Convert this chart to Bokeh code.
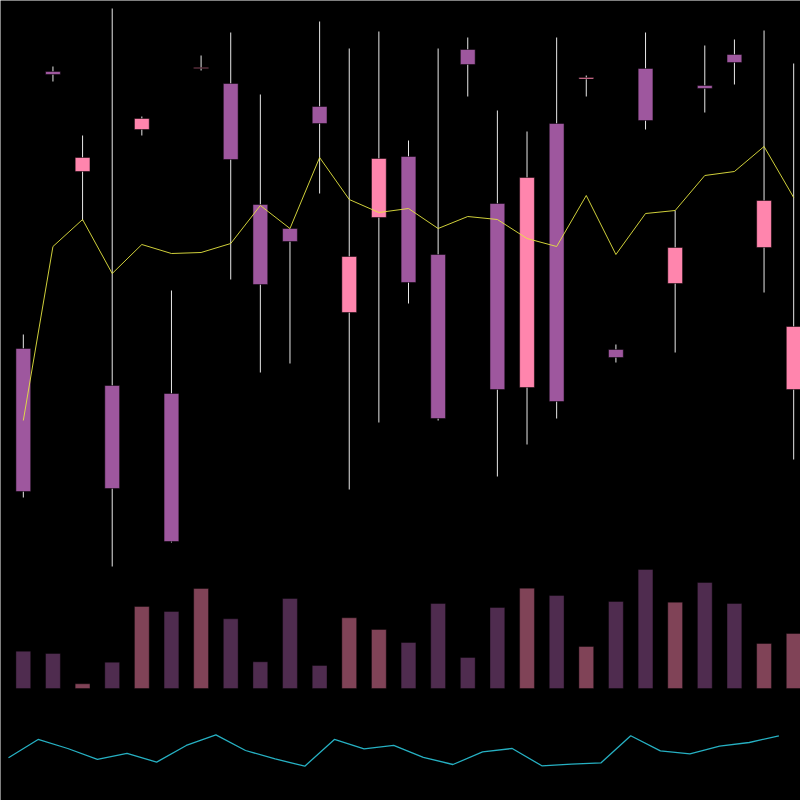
import numpy as np
from bokeh.plotting import figure
from bokeh.models import Range1d
from bokeh.embed import file_html
from bokeh.resources import INLINE

# ---- data ----
open_ = [41.8, 69.5, 59.5, 38.1, 63.7, 37.3, 69.8, 68.3, 56.2, 53.8, 66.0, 45.4, 54.9, 61.0,
         51.2, 71.7, 56.3, 37.9, 64.3, 68.75, 41.7, 69.8, 48.3, 68.1, 71.2, 51.9, 37.7]
high = [43.2, 70.0, 63.1, 75.8, 65.0, 47.6, 71.1, 73.4, 67.2, 53.8, 74.5, 71.8, 73.5, 62.6,
        71.8, 72.9, 65.6, 63.5, 72.9, 69.1, 42.2, 73.4, 55.6, 72.1, 72.7, 73.6, 70.3]
low = [26.9, 68.5, 54.6, 20.0, 63.1, 22.4, 69.6, 48.7, 39.4, 40.3, 57.3, 27.7, 34.4, 46.3,
       34.6, 67.0, 29.0, 32.2, 34.8, 67.0, 40.4, 63.7, 41.4, 65.4, 68.2, 47.4, 30.7]
close = [27.5, 69.2, 60.9, 27.8, 64.8, 22.5, 69.9, 60.7, 48.2, 52.5, 64.3, 51.0, 60.8, 48.4,
         34.8, 70.2, 37.7, 58.9, 36.5, 68.9, 40.9, 64.6, 51.9, 67.8, 70.4, 56.6, 44.0]
trend = [34.6, 52.0, 54.7, 49.3, 52.2, 51.3, 51.4, 52.3, 56.1, 53.8, 60.9, 56.7, 55.4, 55.8,
         53.8, 55.0, 54.7, 52.8, 52.0, 57.1, 51.2, 55.3, 55.6, 59.1, 59.5, 62.0, 56.9]
volume = [37300, 35000, 4700, 26300, 82000, 77000, 100000, 69700, 26700, 90000, 23000, 70700,
          59000, 46000, 85000, 31000, 81000, 100300, 93000, 42000, 87000, 119000, 86300, 106000,
          85000, 45000, 55000]
oscillator = [40.9, 63.8, 52.5, 38.8, 46.3, 35.4, 56.3, 69.6, 50.0, 39.4, 30.4, 63.8, 52.1, 56.3,
              41.3, 32.5, 48.4, 52.5, 30.9, 32.9, 34.6, 68.4, 49.6, 45.9, 55.4, 60.0, 68.4]

UP = "#FF85AD"
DOWN = "#9E579E"

n = len(open_)
idx = np.arange(n)
o = np.array(open_)
c = np.array(close)
up = c > o
colors = [UP if u else DOWN for u in up]
body_top = np.maximum(o, c)
body_bot = np.minimum(o, c)

# frame: 800 x 800 px; content inset 8 px from top-left
step = 800 / n
pmin, pmax = min(low), max(high)
span = pmax - pmin
price_range = Range1d(pmin - span * 234 / 558, pmax + span * 8 / 558)
vmax = max(volume)
vol_range = Range1d(-vmax * 112 / 119, vmax * 688 / 119)
osc_range = Range1d(-12.5, 987.5)
x0 = -0.5 - 8 / step
x_range = Range1d(x0, x0 + n)

p = figure(width=800, height=800, output_backend="svg", toolbar_location=None,
           x_range=x_range, y_range=price_range,
           x_axis_location=None, y_axis_location=None,
           background_fill_color="black", border_fill_color="black",
           outline_line_color=None, min_border=0)
p.extra_y_ranges = {"vol": vol_range, "osc": osc_range}
p.grid.visible = False

# volume
p.vbar(x=idx, width=0.5, top=volume, bottom=0, y_range_name="vol",
       fill_color=colors, fill_alpha=0.5, line_color="black", line_alpha=0.4)

# wicks
p.segment(x0=idx, y0=high, x1=idx, y1=low, line_color="#e8e8e8", line_width=1)
# bodies
p.vbar(x=idx, width=0.5, top=body_top, bottom=body_bot,
       fill_color=colors, line_color="black", line_alpha=0.5, line_width=1)

# trend line
p.line(idx, trend, line_color="#e6e640", line_width=1, line_alpha=0.9)

# oscillator
p.line(idx - 0.5, oscillator, y_range_name="osc", line_color="#26b0c2", line_width=1.3)

open("out.html", "w").write(file_html(p, INLINE))
